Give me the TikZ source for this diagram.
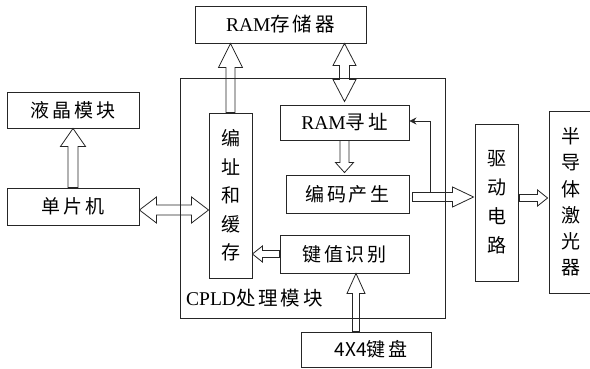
\documentclass[tikz,border=0pt]{standalone}
\usepackage{fontspec}
\setmainfont{Liberation Serif}
\newfontfamily\cjk[LetterSpace=15]{Noto Sans CJK SC}
\newfontfamily\cjkv{Noto Sans CJK SC}
\usetikzlibrary{calc,arrows.meta}

% hollow block arrow: #1 tail, #2 tip, #3 shaft half width, #4 head half width, #5 head length
\newcommand\hollowarrow[5]{%
  \coordinate (ha-base) at ($(#2)!#5!(#1)$);
  \draw[blk] ($(#1)!#3!90:(#2)$) -- ($(ha-base)!#3!90:(#2)$) -- ($(ha-base)!#4!90:(#2)$)
    -- (#2) -- ($(ha-base)!#4!-90:(#2)$) -- ($(ha-base)!#3!-90:(#2)$) -- ($(#1)!#3!-90:(#2)$) -- cycle;}

% hollow block arrow with heads at both ends
\newcommand\hollowdarrow[5]{%
  \coordinate (hb-one) at ($(#2)!#5!(#1)$);
  \coordinate (hb-two) at ($(#1)!#5!(#2)$);
  \draw[blk] (#1) -- ($(hb-two)!#4!90:(#2)$) -- ($(hb-two)!#3!90:(#2)$) -- ($(hb-one)!#3!90:(#2)$)
    -- ($(hb-one)!#4!90:(#2)$) -- (#2) -- ($(hb-one)!#4!-90:(#2)$) -- ($(hb-one)!#3!-90:(#2)$)
    -- ($(hb-two)!#3!-90:(#2)$) -- ($(hb-two)!#4!-90:(#2)$) -- cycle;}

\begin{document}
\begin{tikzpicture}[x=1pt,y=-1pt,
  box/.style 2 args={draw=black!85, line width=0.9pt, inner sep=0pt,
    minimum width=#1pt, minimum height=#2pt, align=center,
    font=\fontsize{19}{28.5}\selectfont},
  vbox/.style={font=\cjkv\fontsize{19}{#1}\selectfont},
  blk/.style={draw=black!85, line width=0.8pt, line join=miter},
  link/.style={draw=black!85, line width=0.8pt}]

\useasboundingbox (0,0) rectangle (590,369);

% outer CPLD block
\node[box={265}{240}] (cpld) at (312.5,198) {};
\node[anchor=west, inner sep=0pt, font=\fontsize{19.5}{22}\selectfont] (cpldlabel) at (186,298)
  {CPLD{\cjk 处理模块}};

% boxes
\node[box={171}{37}] (ram) at (280.5,24.5) {\fontsize{19.5}{22}\selectfont RAM{\cjk 存储器}};
\node[box={132}{36}] (lcd) at (73,110) {\cjk 液晶模块};
\node[box={132}{37}] (mcu) at (73,206.5) {\cjk 单片机};
\node[box={43}{165}, vbox=28.5] (buf) at (230.5,195.5) {编\\址\\和\\缓\\存};
\node[box={129}{35}] (addr) at (344.5,122.5) {\fontsize{19.5}{22}\selectfont RAM{\cjk 寻址}};
\node[box={123}{38}] (enc) at (347.5,194) {\cjk 编码产生};
\node[box={129}{38}] (key) at (344.5,254) {\cjk 键值识别};
\node[box={43}{157}, vbox=29] (drv) at (496.5,202.5) {驱\\动\\电\\路};
\node[box={43}{182}, vbox=26.3] (laser) at (570.5,202) {半\\导\\体\\激\\光\\器};
\node[box={130}{35}] (kbd) at (366,349.5) {\hspace{10pt}{\cjkv 4X4}{\cjk 键盘}};

% connectors
\hollowarrow{mcu.north}{lcd.south}{5pt}{12.5pt}{18pt}
\hollowarrow{buf.north}{buf.north |- ram.south}{4.5pt}{12pt}{24pt}
\coordinate (ramtail) at (ram.south -| addr.north);
\coordinate (ramtip) at ($(addr.north)+(0,-3)$);
\hollowdarrow{ramtail}{ramtip}{5pt}{11.5pt}{22pt}
\coordinate (enctip) at ($(enc.north -| addr.south)+(0,-2)$);
\hollowarrow{addr.south}{enctip}{4.5pt}{9pt}{10pt}
\hollowarrow{key.west}{buf.east |- key.west}{3.5pt}{8pt}{10pt}
\coordinate (mcutail) at ($(mcu.east)+(0,3.5)$);
\coordinate (buftip) at (buf.west |- mcutail);
\hollowdarrow{mcutail}{buftip}{5pt}{13pt}{17pt}
\coordinate (outtail) at ($(enc.east)+(3,3)$);
\coordinate (outtip) at ($(drv.west |- outtail)+(-1,0)$);
\hollowarrow{outtail}{outtip}{4.5pt}{10pt}{21pt}
\coordinate (drvtail) at ($(drv.east)+(1,-4.5)$);
\coordinate (lasertip) at ($(laser.west |- drvtail)+(-1,0)$);
\hollowarrow{drvtail}{lasertip}{3.5pt}{8pt}{10pt}
\coordinate (kbdtail) at ($(kbd.north)+(-10,0)$);
\hollowarrow{kbdtail}{key.south -| kbdtail}{3.5pt}{9pt}{20pt}

% feedback line from the output back to the RAM addressing block
\coordinate (fb) at ($(outtail)+(18,-4.5)$);
\draw[link, -{Stealth[length=7pt,width=7pt]}] (fb) |- ($(addr.east)+(0,-1.5)$);
\end{tikzpicture}
\end{document}
